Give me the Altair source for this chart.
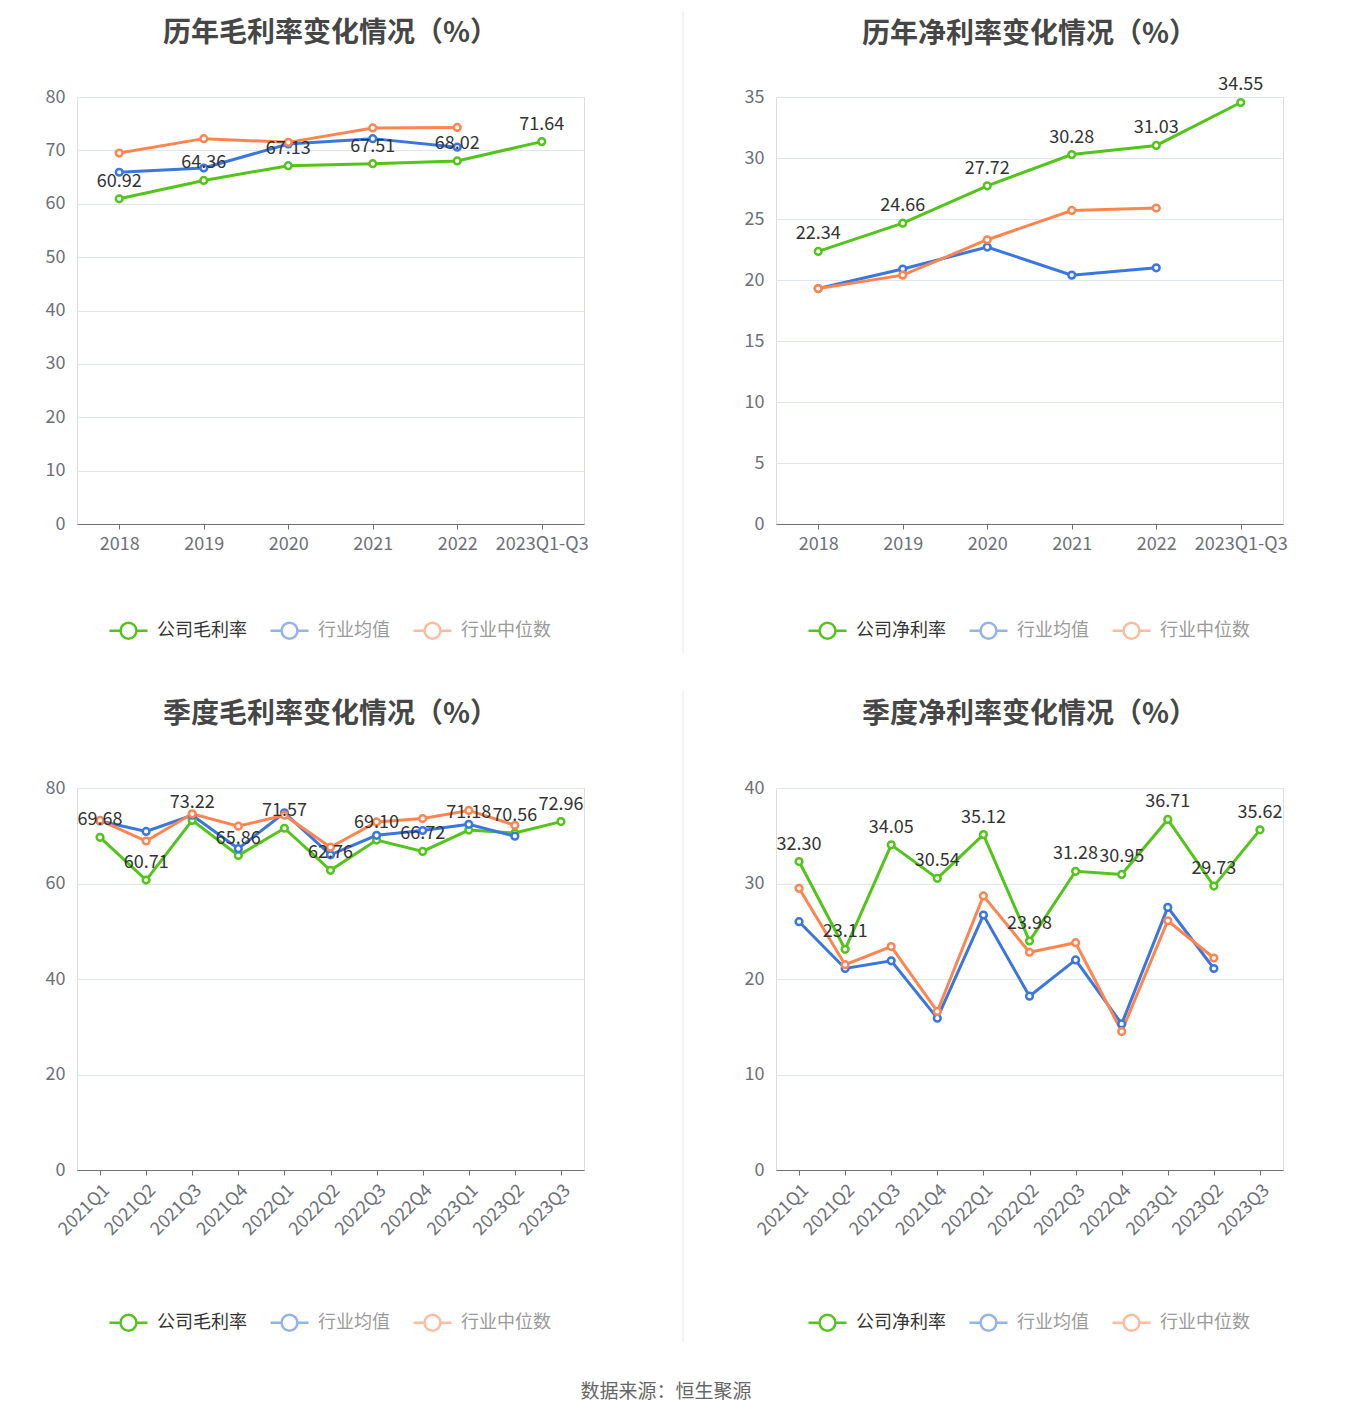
import altair as alt
import pandas as pd

FONT = "Noto Sans CJK SC"
GREEN, BLUE, ORANGE = "#52C41A", "#3A76E0", "#FF8550"

years = ["2018", "2019", "2020", "2021", "2022", "2023Q1-Q3"]
quarters = ["2021Q1", "2021Q2", "2021Q3", "2021Q4", "2022Q1", "2022Q2",
            "2022Q3", "2022Q4", "2023Q1", "2023Q2", "2023Q3"]

ann_gross_company = [60.92, 64.36, 67.13, 67.51, 68.02, 71.64]
ann_gross_avg = [65.9, 66.7, 71.2, 72.2, 70.6]
ann_gross_median = [69.5, 72.2, 71.5, 74.2, 74.3]

ann_net_company = [22.34, 24.66, 27.72, 30.28, 31.03, 34.55]
ann_net_avg = [19.3, 20.9, 22.7, 20.4, 21.0]
ann_net_median = [19.3, 20.4, 23.3, 25.7, 25.9]

q_gross_company = [69.68, 60.71, 73.22, 65.86, 71.57, 62.76, 69.10, 66.72, 71.18, 70.56, 72.96]
q_gross_avg = [73.1, 70.9, 74.3, 67.3, 74.8, 66.0, 70.1, 71.1, 72.4, 69.9]
q_gross_median = [73.2, 68.9, 74.6, 72.0, 74.3, 67.6, 72.9, 73.6, 75.3, 72.2]

q_net_company = [32.30, 23.11, 34.05, 30.54, 35.12, 23.98, 31.28, 30.95, 36.71, 29.73, 35.62]
q_net_avg = [26.0, 21.1, 21.9, 15.9, 26.7, 18.2, 22.0, 15.3, 27.5, 21.1]
q_net_median = [29.5, 21.5, 23.4, 16.6, 28.7, 22.8, 23.8, 14.5, 26.1, 22.2]

SYMBOL = "M-1,0L-0.42,0M0.42,0L1,0M0.42,0A0.42,0.42,0,1,1,-0.42,0A0.42,0.42,0,1,1,0.42,0"


def panel(title, cats, company_name, company, avg, median, ymax, ystep,
          height, angle, sep, legend_y, title_offset):
    rows = []
    for name, vals in [(company_name, company), ("行业均值", avg), ("行业中位数", median)]:
        for c, v in zip(cats, vals):
            rows.append({"cat": c, "series": name, "value": v,
                         "label": f"{v:.2f}" if name == company_name else ""})
    df = pd.DataFrame(rows)
    domain = [company_name, "行业均值", "行业中位数"]
    cscale = alt.Scale(domain=domain, range=[GREEN, BLUE, ORANGE])

    x = alt.X("cat:N", sort=cats, title=None,
              scale=alt.Scale(domain=cats, paddingInner=0, paddingOuter=0),
              axis=alt.Axis(labelAngle=angle, domainColor="#6E7079", tickColor="#6E7079",
                            tickSize=5, labelColor="#6E7079", labelFontSize=18,
                            labelPadding=6, grid=False, labelFont=FONT))
    y = alt.Y("value:Q", title=None,
              scale=alt.Scale(domain=[0, ymax], nice=False),
              axis=alt.Axis(values=list(range(0, ymax + 1, ystep)), domain=False, ticks=False,
                            gridColor="#E0E6F1", labelColor="#6E7079", labelFontSize=18,
                            labelPadding=12, labelFont=FONT))
    base = alt.Chart(df).encode(x=x, y=y)

    legend = alt.Legend(orient="none", legendX=31, legendY=legend_y, direction="horizontal",
                        title=None, symbolType=SYMBOL, symbolSize=1444, symbolStrokeWidth=2.5,
                        symbolFillColor="white", labelFontSize=18, labelFont=FONT,
                        labelOffset=8, columnPadding=18, columns=3,
                        labelColor=alt.ExprRef(expr=f"datum.label === '{company_name}' ? '#333333' : '#9a9a9a'"),
                        symbolOpacity=alt.ExprRef(expr=f"datum.value === '{company_name}' ? 1 : 0.55"))

    lines = base.mark_line(strokeWidth=3).encode(
        color=alt.Color("series:N", scale=cscale, sort=domain, legend=legend))
    points = base.mark_point(shape="circle", size=45, filled=False, fill="white",
                             fillOpacity=1, strokeWidth=2.5, opacity=1).encode(
        stroke=alt.Stroke("series:N", scale=cscale, legend=None))
    labels = base.transform_filter(alt.datum.series == company_name).mark_text(
        baseline="bottom", dy=-8, fontSize=18, color="#333333", font=FONT).encode(
        text="label:N")
    layers = [lines, points, labels]
    if sep is not None:
        sep_rule = alt.Chart(pd.DataFrame({"k": [0]})).mark_rule(
            color="#E8E8E8", strokeWidth=1).encode(
            x=alt.value(606), y=alt.value(sep[0]), y2=alt.value(sep[1]))
        layers.append(sep_rule)

    return alt.layer(*layers).properties(
        width=507, height=height,
        title=alt.TitleParams(title, fontSize=28, fontWeight="bold", color="#464646",
                              font=FONT, anchor="middle", frame="group", offset=title_offset,
                              baseline="bottom"))


p1 = panel("历年毛利率变化情况（%）", years, "公司毛利率", ann_gross_company, ann_gross_avg,
           ann_gross_median, 80, 10, 427, 0, (-85, 556), 513, -64)
p2 = panel("历年净利率变化情况（%）", years, "公司净利率", ann_net_company, ann_net_avg,
           ann_net_median, 35, 5, 427, 0, None, 513, -1)
p3 = panel("季度毛利率变化情况（%）", quarters, "公司毛利率", q_gross_company, q_gross_avg,
           q_gross_median, 80, 20, 382, -45, (-97, 554), 514, -66)
p4 = panel("季度净利率变化情况（%）", quarters, "公司净利率", q_net_company, q_net_avg,
           q_net_median, 40, 10, 382, -45, None, 514, 22)

chart = alt.concat(p1, p2, p3, p4, columns=2,
                   spacing=alt.RowColnumber(row=264, column=192)).properties(
    bounds="flush",
    padding={"left": 36, "top": 3, "right": 10, "bottom": 5},
    title=alt.TitleParams("数据来源：恒生聚源", orient="bottom", anchor="middle", fontSize=19,
                          fontWeight="normal", color="#666666", font=FONT, offset=40),
).resolve_scale(color="independent", x="independent", y="independent").configure_view(
    stroke=None).configure(font=FONT)

chart.save("out.html", embed_options={"renderer": "svg", "actions": False})
